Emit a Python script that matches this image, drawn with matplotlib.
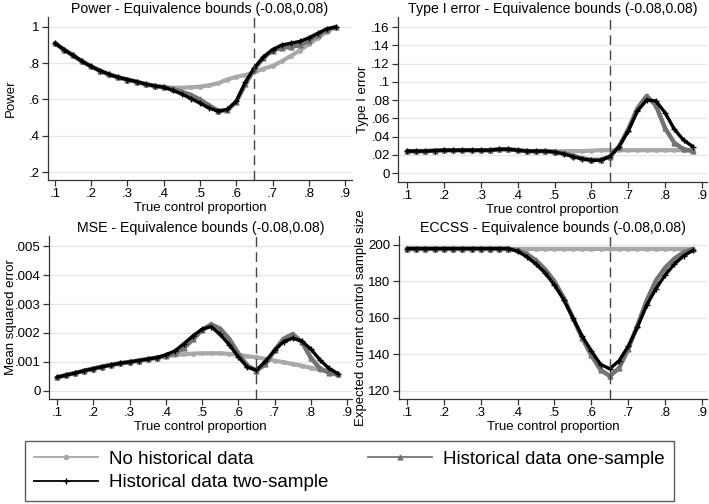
"""
Power / type I error / MSE / ECCSS curves, equivalence bounds (-0.08, 0.08)
"""

import matplotlib.pyplot as plt
from matplotlib.lines import Line2D

plt.rcParams['font.family'] = ['Liberation Sans', 'DejaVu Sans']
plt.rcParams['font.size'] = 9.5

# true control proportion
x = [0.1, 0.125, 0.15, 0.175, 0.2, 0.225, 0.25, 0.275, 0.3, 0.325, 0.35, 0.375,
     0.4, 0.425, 0.45, 0.475, 0.5, 0.525, 0.55, 0.575, 0.6, 0.625, 0.65, 0.675,
     0.7, 0.725, 0.75, 0.775, 0.8, 0.825, 0.85, 0.875]

power_none = [0.91, 0.875, 0.843, 0.81, 0.782, 0.758, 0.738, 0.722, 0.71, 0.698, 0.685, 0.675,
              0.668, 0.665, 0.665, 0.667, 0.671, 0.678, 0.69, 0.71, 0.725, 0.735, 0.75, 0.77,
              0.785, 0.81, 0.84, 0.87, 0.905, 0.94, 0.975, 1.0]
power_one = [0.91, 0.875, 0.843, 0.81, 0.782, 0.758, 0.738, 0.722, 0.71, 0.698, 0.685, 0.675,
             0.668, 0.658, 0.642, 0.625, 0.6, 0.567, 0.538, 0.54, 0.588, 0.685, 0.768, 0.83,
             0.87, 0.885, 0.89, 0.9, 0.925, 0.955, 0.985, 1.0]
power_two = [0.91, 0.875, 0.843, 0.81, 0.782, 0.758, 0.738, 0.722, 0.71, 0.698, 0.685, 0.675,
             0.668, 0.65, 0.63, 0.605, 0.58, 0.553, 0.535, 0.545, 0.59, 0.695, 0.775, 0.835,
             0.875, 0.9, 0.91, 0.92, 0.94, 0.965, 0.99, 1.0]

t1_none = [0.024, 0.024, 0.024, 0.0245, 0.025, 0.025, 0.025, 0.025, 0.025, 0.025, 0.026, 0.026,
           0.025, 0.024, 0.024, 0.024, 0.024, 0.024, 0.024, 0.024, 0.0245, 0.025, 0.025, 0.025,
           0.025, 0.025, 0.025, 0.025, 0.025, 0.025, 0.025, 0.025]
t1_one = [0.024, 0.024, 0.024, 0.0245, 0.025, 0.025, 0.025, 0.025, 0.025, 0.025, 0.026, 0.026,
          0.025, 0.024, 0.024, 0.024, 0.023, 0.0215, 0.019, 0.016, 0.0145, 0.0145, 0.018, 0.029,
          0.048, 0.071, 0.0845, 0.074, 0.049, 0.033, 0.026, 0.024]
t1_two = [0.024, 0.024, 0.024, 0.0245, 0.025, 0.025, 0.025, 0.025, 0.025, 0.025, 0.026, 0.026,
          0.025, 0.024, 0.024, 0.024, 0.023, 0.021, 0.018, 0.0155, 0.0138, 0.014, 0.018, 0.029,
          0.046, 0.068, 0.08, 0.079, 0.066, 0.048, 0.036, 0.029]

mse_none = [0.00047, 0.00055, 0.00062, 0.0007, 0.00077, 0.00084, 0.0009, 0.00096, 0.001, 0.00105,
            0.0011, 0.00115, 0.0012, 0.00124, 0.00127, 0.00129, 0.0013, 0.0013, 0.0013, 0.00128,
            0.00125, 0.0012, 0.00116, 0.00111, 0.00105, 0.00099, 0.00093, 0.00087, 0.0008,
            0.00073, 0.00066, 0.0006]
mse_one = [0.00047, 0.00055, 0.00062, 0.0007, 0.00077, 0.00084, 0.0009, 0.00096, 0.001, 0.00105,
           0.0011, 0.00115, 0.0012, 0.0013, 0.00148, 0.00178, 0.0021, 0.0023, 0.00215, 0.0018,
           0.0013, 0.00088, 0.0007, 0.00092, 0.0014, 0.0018, 0.00196, 0.0017, 0.00115,
           0.00078, 0.00063, 0.00057]
mse_two = [0.00047, 0.00055, 0.00062, 0.0007, 0.00077, 0.00084, 0.0009, 0.00096, 0.001, 0.00105,
           0.0011, 0.00115, 0.00125, 0.00138, 0.00163, 0.0019, 0.00213, 0.00222, 0.00195, 0.0016,
           0.00118, 0.00082, 0.00072, 0.00102, 0.0014, 0.0017, 0.00182, 0.00172, 0.00145,
           0.00108, 0.00078, 0.0006]

ecc_none = [198] * 32
ecc_one = [198, 198, 198, 198, 198, 198, 198, 198, 198, 198, 198, 198,
           197, 195, 191.5, 186.5, 180, 171, 160, 149, 139.5, 131.5, 128.2, 132.5,
           143, 156, 169.5, 180.5, 187.5, 192.5, 196, 197.8]
ecc_two = [198, 198, 198, 198, 198, 198, 198, 198, 198, 198, 198, 198,
           196.5, 193.5, 189.5, 184.5, 178, 170, 160, 150, 142, 134.5, 132.2, 136.5,
           144.5, 155, 167, 176, 183.5, 189.5, 194, 197]

xticks = [0.1, 0.2, 0.3, 0.4, 0.5, 0.6, 0.7, 0.8, 0.9]
xticklabels = ['.1', '.2', '.3', '.4', '.5', '.6', '.7', '.8', '.9']

bounds = '(-0.08,0.08)'
c_none, c_one, c_two = '#a8a8a8', '#737373', 'black'

W, H = 709, 504
fig = plt.figure(figsize=(W / 100, H / 100), dpi=100)


def panel(box, xlim, ylim, title, ylabel, yticks, yticklabels, none, one, two, ylab_x):
    l, t, r, b = box
    ax = fig.add_axes([l / W, 1 - b / H, (r - l) / W, (b - t) / H])
    ax.set_xlim(xlim)
    ax.set_ylim(ylim)
    ax.set_yticks(yticks)
    ax.set_yticklabels(yticklabels)
    ax.set_xticks(xticks)
    ax.set_xticklabels(xticklabels)
    ax.grid(axis='y', color='#e6e6e6', lw=1)
    ax.set_axisbelow(True)
    for s in ['top', 'right']:
        ax.spines[s].set_visible(False)
    for s in ['left', 'bottom']:
        ax.spines[s].set_color('#333333')
        ax.spines[s].set_linewidth(0.9)
    ax.tick_params(length=4, width=0.9, color='#333333', pad=2)

    ax.plot(x, none, color=c_none, lw=3, marker='o', ms=2.5, solid_capstyle='round')
    ax.plot(x, one, color=c_one, lw=3.2, marker='^', ms=3.5, solid_capstyle='round')
    ax.plot(x, two, color=c_two, lw=2.4, marker='+', ms=4, mew=1, solid_capstyle='round')
    ax.axvline(0.65, color='#444444', lw=1, ls=(0, (7, 4)))

    ax.set_title(title, fontsize=10.2, pad=3)
    ax.set_xlabel('True control proportion', labelpad=1)
    ax.set_ylabel(ylabel)
    ax.yaxis.set_label_coords(ylab_x, 0.5)
    return ax


panel((48, 17, 352, 180), (0.0807, 0.9193), (0.156, 1.055),
      'Power - Equivalence bounds ' + bounds, 'Power',
      [0.2, 0.4, 0.6, 0.8, 1.0], ['.2', '.4', '.6', '.8', '1'],
      power_none, power_one, power_two, -0.102)

panel((398, 17, 707, 182), (0.0755, 0.9136), (-0.00986, 0.171),
      'Type I error - Equivalence bounds ' + bounds, 'Type I error',
      [0, 0.02, 0.04, 0.06, 0.08, 0.1, 0.12, 0.14, 0.16],
      ['0', '.02', '.04', '.06', '.08', '.1', '.12', '.14', '.16'],
      t1_none, t1_one, t1_two, -0.094)

panel((49, 236, 352, 399), (0.0779, 0.9138), (-0.000276, 0.005345),
      'MSE - Equivalence bounds ' + bounds, 'Mean squared error',
      [0, 0.001, 0.002, 0.003, 0.004, 0.005], ['0', '.001', '.002', '.003', '.004', '.005'],
      mse_none, mse_one, mse_two, -0.106)

panel((399, 236, 707, 399), (0.0783, 0.9136), (115.6, 204.9),
      'ECCSS - Equivalence bounds ' + bounds, 'Expected current control sample size',
      [120, 140, 160, 180, 200], ['120', '140', '160', '180', '200'],
      ecc_none, ecc_one, ecc_two, -0.104)

# legend
h_none = Line2D([], [], color=c_none, lw=1.3, marker='o', ms=3)
h_one = Line2D([], [], color=c_one, lw=1.3, marker='^', ms=3.5)
h_two = Line2D([], [], color=c_two, lw=1.3, marker='+', ms=4, mew=1)
leg = fig.legend([h_none, h_two, h_one],
                 ['No historical data', 'Historical data two-sample', 'Historical data one-sample'],
                 ncol=2, loc='upper left', bbox_to_anchor=(25 / W, 1 - 441 / H),
                 fontsize=13.5, frameon=True, fancybox=False, numpoints=1,
                 handlelength=3.4, handletextpad=0.6, columnspacing=2.1,
                 labelspacing=0.35, borderpad=0.5, borderaxespad=0)
leg.get_frame().set_edgecolor('#333333')
leg.get_frame().set_linewidth(1)

fig.savefig('out.png', dpi=100, facecolor='white')
